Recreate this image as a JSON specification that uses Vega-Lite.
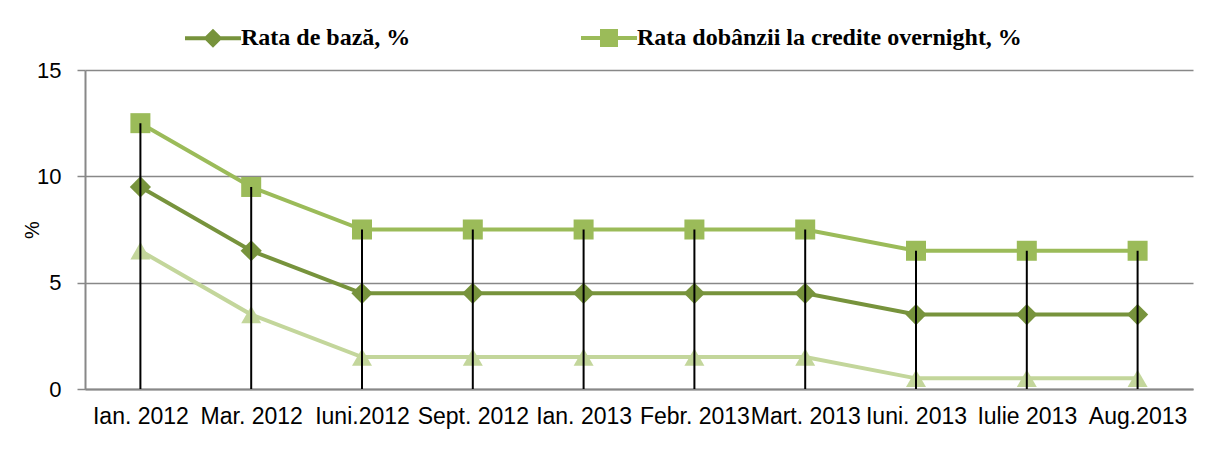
{
  "$schema": "https://vega.github.io/schema/vega-lite/v6.json",
  "autosize": {"type": "none"},
  "width": 1108,
  "height": 319,
  "padding": {"left": 85, "top": 70, "right": 17, "bottom": 64},
  "background": "white",
  "config": {"view": {"stroke": null}},
  "data": {"values": [
    {"d": "Ian. 2012", "s": "Rata de bază, %", "v": 9.5},
    {"d": "Mar. 2012", "s": "Rata de bază, %", "v": 6.5},
    {"d": "Iuni.2012", "s": "Rata de bază, %", "v": 4.5},
    {"d": "Sept. 2012", "s": "Rata de bază, %", "v": 4.5},
    {"d": "Ian. 2013", "s": "Rata de bază, %", "v": 4.5},
    {"d": "Febr. 2013", "s": "Rata de bază, %", "v": 4.5},
    {"d": "Mart. 2013", "s": "Rata de bază, %", "v": 4.5},
    {"d": "Iuni. 2013", "s": "Rata de bază, %", "v": 3.5},
    {"d": "Iulie 2013", "s": "Rata de bază, %", "v": 3.5},
    {"d": "Aug.2013", "s": "Rata de bază, %", "v": 3.5},
    {"d": "Ian. 2012", "s": "Rata dobânzii la credite overnight, %", "v": 12.5},
    {"d": "Mar. 2012", "s": "Rata dobânzii la credite overnight, %", "v": 9.5},
    {"d": "Iuni.2012", "s": "Rata dobânzii la credite overnight, %", "v": 7.5},
    {"d": "Sept. 2012", "s": "Rata dobânzii la credite overnight, %", "v": 7.5},
    {"d": "Ian. 2013", "s": "Rata dobânzii la credite overnight, %", "v": 7.5},
    {"d": "Febr. 2013", "s": "Rata dobânzii la credite overnight, %", "v": 7.5},
    {"d": "Mart. 2013", "s": "Rata dobânzii la credite overnight, %", "v": 7.5},
    {"d": "Iuni. 2013", "s": "Rata dobânzii la credite overnight, %", "v": 6.5},
    {"d": "Iulie 2013", "s": "Rata dobânzii la credite overnight, %", "v": 6.5},
    {"d": "Aug.2013", "s": "Rata dobânzii la credite overnight, %", "v": 6.5},
    {"d": "Ian. 2012", "s": "Rata dobânzii la depozite overnight, %", "v": 6.5},
    {"d": "Mar. 2012", "s": "Rata dobânzii la depozite overnight, %", "v": 3.5},
    {"d": "Iuni.2012", "s": "Rata dobânzii la depozite overnight, %", "v": 1.5},
    {"d": "Sept. 2012", "s": "Rata dobânzii la depozite overnight, %", "v": 1.5},
    {"d": "Ian. 2013", "s": "Rata dobânzii la depozite overnight, %", "v": 1.5},
    {"d": "Febr. 2013", "s": "Rata dobânzii la depozite overnight, %", "v": 1.5},
    {"d": "Mart. 2013", "s": "Rata dobânzii la depozite overnight, %", "v": 1.5},
    {"d": "Iuni. 2013", "s": "Rata dobânzii la depozite overnight, %", "v": 0.5},
    {"d": "Iulie 2013", "s": "Rata dobânzii la depozite overnight, %", "v": 0.5},
    {"d": "Aug.2013", "s": "Rata dobânzii la depozite overnight, %", "v": 0.5}
  ]},
  "encoding": {
    "x": {
      "field": "d", "type": "ordinal", "sort": null,
      "scale": {"type": "point", "padding": 0.5},
      "axis": {
        "title": null, "labelAngle": 0, "ticks": false,
        "domainColor": "#888888", "domainWidth": 2,
        "labelFont": "Liberation Sans", "labelFontSize": 23, "labelColor": "black",
        "labelPadding": 16, "labelOverlap": false, "labelBound": false
      }
    },
    "y": {
      "field": "v", "type": "quantitative",
      "scale": {"domain": [0, 15], "nice": false},
      "axis": {
        "title": "%", "titleFont": "Liberation Sans", "titleFontSize": 20, "titleFontWeight": "normal",
        "titleColor": "black", "titlePadding": -6,
        "values": [0, 5, 10, 15], "grid": true, "gridColor": "#888888", "gridWidth": 1.5,
        "domainColor": "#888888", "domainWidth": 2, "tickColor": "#888888", "tickSize": 8, "tickWidth": 1.5,
        "labelFont": "Liberation Sans", "labelFontSize": 22, "labelColor": "black", "labelPadding": 16
      }
    },
    "color": {
      "field": "s", "type": "nominal",
      "scale": {
        "domain": ["Rata de bază, %", "Rata dobânzii la credite overnight, %", "Rata dobânzii la depozite overnight, %"],
        "range": ["#77933C", "#9BBB59", "#C3D69B"]
      },
      "legend": {
        "values": ["Rata de bază, %", "Rata dobânzii la credite overnight, %"],
        "title": null, "orient": "none", "direction": "horizontal",
        "legendX": 116, "legendY": -44, "padding": 0,
        "columnPadding": 162, "symbolSize": 196, "labelOffset": 16,
        "labelFont": "Liberation Serif", "labelFontWeight": "bold", "labelFontSize": 24, "labelColor": "black",
        "labelLimit": 600,
        "encoding": {
          "symbols": {
            "shape": {"value": {"expr": "datum.value === 'Rata de bază, %' ? 'M-4,0L4,0M-0.95,0L0,-0.95L0.95,0L0,0.95Z' : 'M-4,0L4,0M-1,-1L1,-1L1,1L-1,1Z'"}},
            "fill": {"value": {"expr": "scale('color', datum.value)"}},
            "stroke": {"value": {"expr": "scale('color', datum.value)"}},
            "strokeWidth": {"value": 4},
            "opacity": {"value": 1},
            "fillOpacity": {"value": 1},
            "strokeOpacity": {"value": 1}
          }
        }
      }
    }
  },
  "layer": [
    {
      "mark": {"type": "line", "strokeWidth": 4}
    },
    {
      "transform": [{"filter": "datum.s === 'Rata de bază, %'"}],
      "mark": {"type": "point", "filled": true, "opacity": 1, "size": 450, "shape": "diamond"}
    },
    {
      "transform": [{"filter": "datum.s === 'Rata dobânzii la credite overnight, %'"}],
      "mark": {"type": "point", "filled": true, "opacity": 1, "size": 400, "shape": "square"}
    },
    {
      "transform": [{"filter": "datum.s === 'Rata dobânzii la depozite overnight, %'"}],
      "mark": {"type": "point", "filled": true, "opacity": 1, "size": 400, "shape": "triangle-up"}
    },
    {
      "transform": [{"filter": "datum.s === 'Rata dobânzii la credite overnight, %'"}],
      "mark": {"type": "rule", "color": "black", "strokeWidth": 2},
      "encoding": {
        "y": {"field": "v", "type": "quantitative"},
        "y2": {"datum": 0},
        "color": {"value": "black"}
      }
    }
  ]
}
